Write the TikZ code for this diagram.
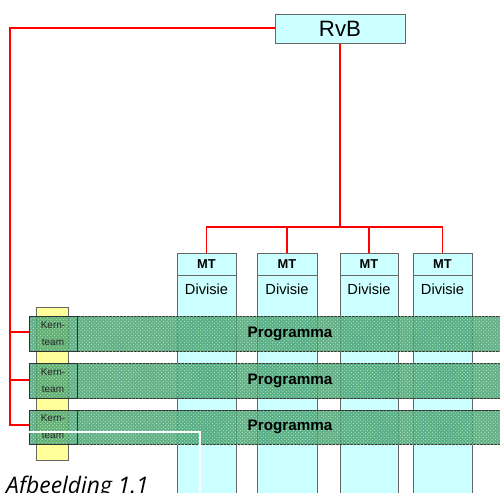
\documentclass[tikz,border=0pt]{standalone}
\usepackage{fontspec}
\setmainfont{Liberation Sans}
\newfontfamily\onderschrift{Open Sans}
\usetikzlibrary{positioning,fit,calc,patterns,backgrounds}
\definecolor{lichtblauw}{HTML}{CCFFFF}
\definecolor{lichtgeel}{HTML}{FFFF99}
\definecolor{progroen}{RGB}{66,156,112}
\definecolor{lijnrood}{RGB}{255,0,0}
\tikzset{
  blok/.style={draw=black!60,line width=0.7pt,fill=lichtblauw,inner sep=0pt},
  kolom/.style={draw=black!60,line width=0.7pt,fill=lichtblauw,inner sep=0pt},
  geelvlak/.style={draw=black!60,line width=0.7pt,fill=lichtgeel,inner sep=0pt},
  balk/.style={draw=black!80,line width=0.7pt,fill=progroen,fill opacity=0.82,inner sep=0pt,
    postaction={pattern=crosshatch dots,pattern color=green!25!white}},
  kern/.style={draw=black!80,line width=0.6pt,inner sep=0pt},
  kerntekst/.style={align=center,font=\fontsize{8.5}{14.5}\selectfont,text=black!85},
  lijn/.style={draw=lijnrood,line width=1.2pt},
  mtkop/.style={font=\bfseries\fontsize{11}{13}\selectfont},
  divtekst/.style={font=\fontsize{12.5}{14}\selectfont},
  progtekst/.style={font=\bfseries\fontsize{13}{15}\selectfont},
}

\begin{document}
\begin{tikzpicture}[x=0.03cm,y=-0.03cm]
  \useasboundingbox (0,0) rectangle (500,492);
  \clip (0,0) rectangle (500,492);

  % raad van bestuur
  \node[blok,fit={(275,14) (405,43)}] (rvb) {};
  \node[font=\fontsize{19}{22}\selectfont] at (rvb.center) {RvB};

  % divisies
  \foreach \i/\xl/\xr in {1/177/236, 2/257/317, 3/340/398, 4/413/472} {
    \node[kolom,fit={(\xl,253) (\xr,500)}] (mt\i) {};
    \draw[draw=black!60,line width=0.7pt] (\xl,275) -- (\xr,275);
    \node[mtkop] at ({(\xl+\xr)/2},264) {MT};
    \node[divtekst] at ({(\xl+\xr)/2},289) {Divisie};
  }

  % kernteams
  \node[geelvlak,fit={(36,307) (68,460)}] (kernkolom) {};

  % programma's, met aansluitpunt voor de lijn links
  \foreach \i/\yt/\yb/\d in {1/316/351/1.5, 2/363/398/0.5, 3/410/444/2} {
    \node[balk,fit={(29,\yt) (515,\yb)}] (prog\i) {};
    \node[kern,fit={(29,\yt) (77,\yb)}] (kern\i) {};
    \node[kerntekst] at (kern\i.center) {Kern-\\team};
    \node[progtekst] at (290,{(\yt+\yb)/2}) {Programma};
    \coordinate (tak\i) at ($(prog\i.west)+(0,-\d)$);
  }

  % lijnen vanuit de RvB, achter de vlakken
  \begin{scope}[on background layer]
    \coordinate (bus) at (340,227);
    \coordinate (links) at (10,28);
    \draw[lijn] (rvb.south) -- (bus);
    \draw[lijn] (mt1.north) |- (bus) -| (mt4.north);
    \draw[lijn] (mt2.north) -- (mt2.north |- bus);
    \draw[lijn] (mt3.north) -- (mt3.north |- bus);
    \draw[lijn] (rvb.west |- links) -- (links) |- (tak3);
    \draw[lijn] (links |- tak1) -- (tak1);
    \draw[lijn] (links |- tak2) -- (tak2);
  \end{scope}

  % witte kader
  \coordinate (wit) at (200,432);
  \draw[white,line width=1pt] (prog3.west |- wit) -- (wit) -- (200,500);

  \node[anchor=base west,inner sep=0pt,font=\onderschrift\itshape\fontsize{19.5}{22}\selectfont] (bijschrift) at (6,493) {Afbeelding 1.1};
\end{tikzpicture}
\end{document}
